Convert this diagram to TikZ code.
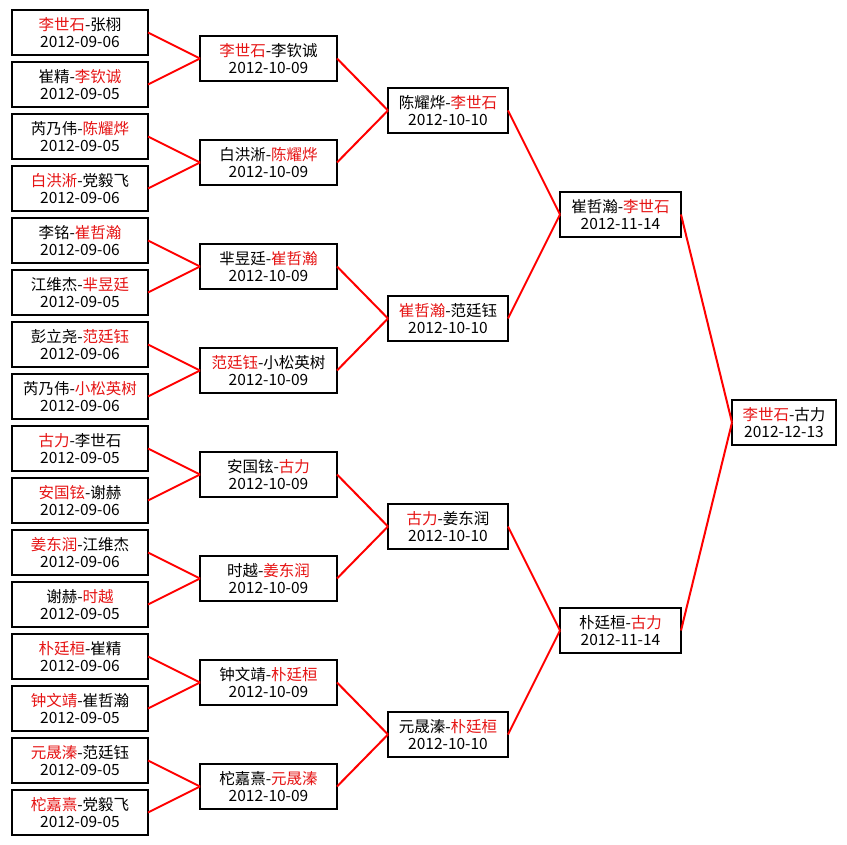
\documentclass[tikz,border=0pt]{standalone}
\usepackage{fontspec}
\setmainfont{Noto Sans CJK SC}
\newcommand{\wn}[1]{\textcolor{winred}{#1}}
\definecolor{winred}{RGB}{230,20,20}
\newcommand{\mt}[2]{\raisebox{-1.5pt}{\shortstack{#1\\[1pt]#2}}}
\begin{document}
\begin{tikzpicture}[x=1pt,y=-1pt,
  match/.style={draw=black,line width=2pt,fill=white,inner sep=0pt,outer sep=0pt,
    minimum height=45pt,align=center,font=\fontsize{15.5}{18}\selectfont},
  c1/.style={match,minimum width=136pt},
  c2/.style={match,minimum width=137pt},
  c3/.style={match,minimum width=120pt},
  c4/.style={match,minimum width=121pt},
  c5/.style={match,minimum width=104pt},
  link/.style={draw=red,line width=2pt}]
\fill[white] (0,0) rectangle (847,845);
\useasboundingbox (0,0) rectangle (847,845);
% column 1
\node[c1] (a1)  at (80, 32.5) {\mt{\wn{李世石}-张栩}{2012-09-06}};
\node[c1] (a2)  at (80, 84.5) {\mt{崔精-\wn{李钦诚}}{2012-09-05}};
\node[c1] (a3)  at (80,136.5) {\mt{芮乃伟-\wn{陈耀烨}}{2012-09-05}};
\node[c1] (a4)  at (80,188.5) {\mt{\wn{白洪淅}-党毅飞}{2012-09-06}};
\node[c1] (a5)  at (80,240.5) {\mt{李铭-\wn{崔哲瀚}}{2012-09-06}};
\node[c1] (a6)  at (80,292.5) {\mt{江维杰-\wn{芈昱廷}}{2012-09-05}};
\node[c1] (a7)  at (80,344.5) {\mt{彭立尧-\wn{范廷钰}}{2012-09-06}};
\node[c1] (a8)  at (80,396.5) {\mt{芮乃伟-\wn{小松英树}}{2012-09-06}};
\node[c1] (a9)  at (80,448.5) {\mt{\wn{古力}-李世石}{2012-09-05}};
\node[c1] (a10) at (80,500.5) {\mt{\wn{安国铉}-谢赫}{2012-09-06}};
\node[c1] (a11) at (80,552.5) {\mt{\wn{姜东润}-江维杰}{2012-09-06}};
\node[c1] (a12) at (80,604.5) {\mt{谢赫-\wn{时越}}{2012-09-05}};
\node[c1] (a13) at (80,656.5) {\mt{\wn{朴廷桓}-崔精}{2012-09-06}};
\node[c1] (a14) at (80,708.5) {\mt{\wn{钟文靖}-崔哲瀚}{2012-09-05}};
\node[c1] (a15) at (80,760.5) {\mt{\wn{元晟溱}-范廷钰}{2012-09-05}};
\node[c1] (a16) at (80,812.5) {\mt{\wn{柁嘉熹}-党毅飞}{2012-09-05}};
% column 2
\node[c2] (b1) at (268.5, 58.5) {\mt{\wn{李世石}-李钦诚}{2012-10-09}};
\node[c2] (b2) at (268.5,162.5) {\mt{白洪淅-\wn{陈耀烨}}{2012-10-09}};
\node[c2] (b3) at (268.5,266.5) {\mt{芈昱廷-\wn{崔哲瀚}}{2012-10-09}};
\node[c2] (b4) at (268.5,370.5) {\mt{\wn{范廷钰}-小松英树}{2012-10-09}};
\node[c2] (b5) at (268.5,474.5) {\mt{安国铉-\wn{古力}}{2012-10-09}};
\node[c2] (b6) at (268.5,578.5) {\mt{时越-\wn{姜东润}}{2012-10-09}};
\node[c2] (b7) at (268.5,682.5) {\mt{钟文靖-\wn{朴廷桓}}{2012-10-09}};
\node[c2] (b8) at (268.5,786.5) {\mt{柁嘉熹-\wn{元晟溱}}{2012-10-09}};
% column 3
\node[c3] (c1) at (448,110.5) {\mt{陈耀烨-\wn{李世石}}{2012-10-10}};
\node[c3] (c2) at (448,318.5) {\mt{\wn{崔哲瀚}-范廷钰}{2012-10-10}};
\node[c3] (c3) at (448,526.5) {\mt{\wn{古力}-姜东润}{2012-10-10}};
\node[c3] (c4) at (448,734.5) {\mt{元晟溱-\wn{朴廷桓}}{2012-10-10}};
% column 4
\node[c4] (d1) at (620.5,214.5) {\mt{崔哲瀚-\wn{李世石}}{2012-11-14}};
\node[c4] (d2) at (620.5,630.5) {\mt{朴廷桓-\wn{古力}}{2012-11-14}};
% column 5
\node[c5] (e1) at (784,422.5) {\mt{\wn{李世石}-古力}{2012-12-13}};
% connectors
\foreach \i/\j in {1/1,2/1,3/2,4/2,5/3,6/3,7/4,8/4,9/5,10/5,11/6,12/6,13/7,14/7,15/8,16/8}
  \draw[link] (a\i.east) -- (b\j.west);
\foreach \i/\j in {1/1,2/1,3/2,4/2,5/3,6/3,7/4,8/4}
  \draw[link] (b\i.east) -- (c\j.west);
\foreach \i/\j in {1/1,2/1,3/2,4/2}
  \draw[link] (c\i.east) -- (d\j.west);
\foreach \i in {1,2}
  \draw[link] (d\i.east) -- (e1.west);
\end{tikzpicture}
\end{document}
